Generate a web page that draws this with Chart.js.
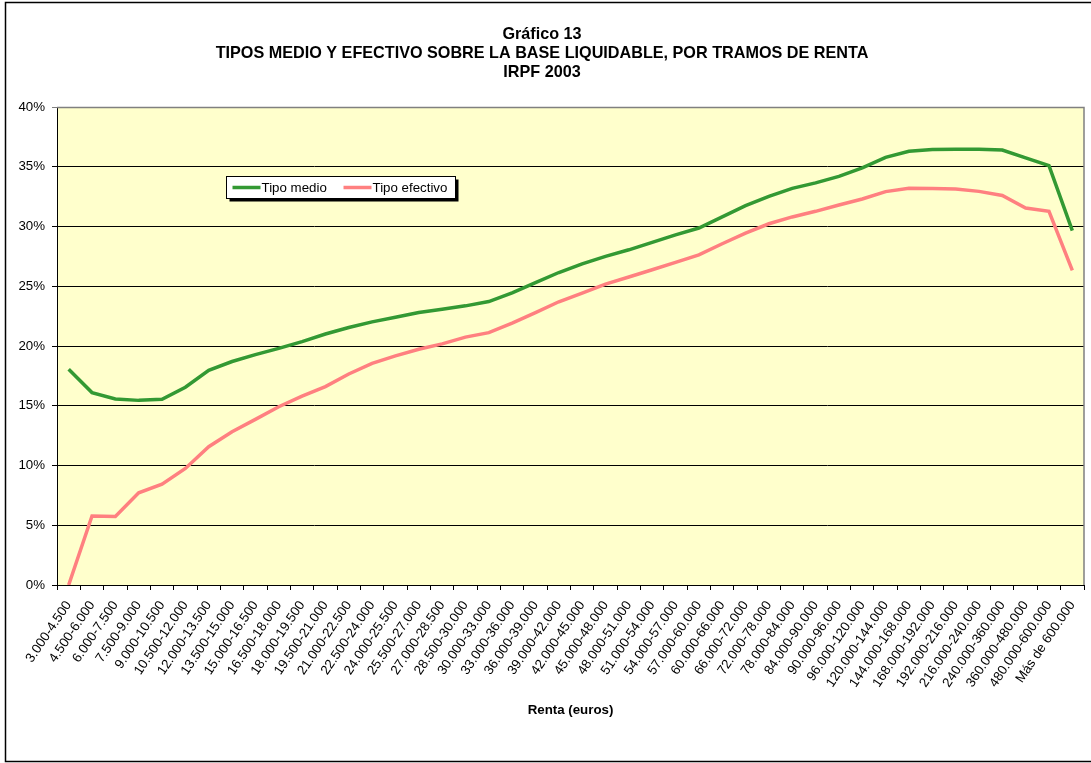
<!DOCTYPE html>
<html>
<head>
<meta charset="utf-8">
<script src="https://cdn.jsdelivr.net/npm/chart.js@4/dist/chart.umd.min.js"></script>
<style>
  html, body { margin: 0; padding: 0; background: #fff; }
  #chart { display: block; }
</style>
</head>
<body>
<canvas id="chart" width="1091" height="763"></canvas>
<script>
const tramos = [
  "3.000-4.500", "4.500-6.000", "6.000-7.500", "7.500-9.000", "9.000-10.500",
  "10.500-12.000", "12.000-13.500", "13.500-15.000", "15.000-16.500", "16.500-18.000",
  "18.000-19.500", "19.500-21.000", "21.000-22.500", "22.500-24.000", "24.000-25.500",
  "25.500-27.000", "27.000-28.500", "28.500-30.000", "30.000-33.000", "33.000-36.000",
  "36.000-39.000", "39.000-42.000", "42.000-45.000", "45.000-48.000", "48.000-51.000",
  "51.000-54.000", "54.000-57.000", "57.000-60.000", "60.000-66.000", "66.000-72.000",
  "72.000-78.000", "78.000-84.000", "84.000-90.000", "90.000-96.000", "96.000-120.000",
  "120.000-144.000", "144.000-168.000", "168.000-192.000", "192.000-216.000", "216.000-240.000",
  "240.000-360.000", "360.000-480.000", "480.000-600.000", "Más de 600.000"
];

// % sobre la base liquidable
const tipoMedio = [
  18.05, 16.1, 15.57, 15.45, 15.54, 16.55, 17.97, 18.7, 19.28, 19.8,
  20.37, 21.0, 21.55, 22.02, 22.4, 22.8, 23.08, 23.36, 23.72, 24.45,
  25.31, 26.15, 26.88, 27.5, 28.05, 28.67, 29.3, 29.87, 30.8, 31.74,
  32.52, 33.19, 33.65, 34.2, 34.9, 35.79, 36.3, 36.44, 36.47, 36.47,
  36.4, 35.74, 35.1, 29.65
];
const tipoEfectivo = [
  0.0, 5.78, 5.73, 7.71, 8.44, 9.75, 11.57, 12.83, 13.86, 14.92,
  15.8, 16.6, 17.66, 18.55, 19.17, 19.73, 20.18, 20.74, 21.12, 21.91,
  22.8, 23.7, 24.43, 25.18, 25.77, 26.38, 27.0, 27.63, 28.56, 29.45,
  30.23, 30.8, 31.27, 31.8, 32.3, 32.92, 33.2, 33.17, 33.14, 32.94,
  32.6, 31.55, 31.27, 26.32
];

const yTicks = [0, 5, 10, 15, 20, 25, 30, 35, 40];

Chart.defaults.font.family = "'Liberation Sans', Arial, sans-serif";
Chart.defaults.font.size = 13.3;
Chart.defaults.color = "#000";

// fondo blanco, marco exterior y area amarilla
const fondo = {
  id: "fondo",
  beforeDraw(chart) {
    const ctx = chart.ctx;
    const a = chart.chartArea;
    ctx.save();
    ctx.fillStyle = "#fff";
    ctx.fillRect(0, 0, chart.width, chart.height);
    ctx.strokeStyle = "#000";
    ctx.lineWidth = 1.5;
    ctx.strokeRect(5.5, 2.5, chart.width + 10, 759);
    ctx.fillStyle = "#FFFFCC";
    ctx.fillRect(a.left, a.top, a.right - a.left, a.bottom - a.top);
    ctx.restore();
  },
  beforeDatasetsDraw(chart) {
    const ctx = chart.ctx;
    const a = chart.chartArea;
    ctx.save();
    ctx.strokeStyle = "#808080";
    ctx.lineWidth = 1.5;
    ctx.beginPath();
    ctx.moveTo(a.left, a.top + 0.5);
    ctx.lineTo(a.right, a.top + 0.5);
    ctx.lineTo(a.right, a.bottom);
    ctx.stroke();
    ctx.restore();
  }
};

// leyenda en caja con sombra, dentro del grafico
const leyenda = {
  id: "leyenda",
  afterDraw(chart) {
    const ctx = chart.ctx;
    const x = 226.5, y = 176.5, w = 229, h = 22;
    ctx.save();
    ctx.fillStyle = "#000";
    ctx.fillRect(x + 3, y + 3, w, h);
    ctx.fillStyle = "#fff";
    ctx.fillRect(x, y, w, h);
    ctx.strokeStyle = "#000";
    ctx.lineWidth = 1;
    ctx.strokeRect(x, y, w, h);
    const items = [[232.5, 261.5], [343.5, 372.5]];
    ctx.font = "13.3px 'Liberation Sans', Arial, sans-serif";
    ctx.textBaseline = "middle";
    chart.data.datasets.forEach((ds, i) => {
      const [lx, tx] = items[i];
      ctx.strokeStyle = ds.borderColor;
      ctx.lineWidth = 3.5;
      ctx.beginPath();
      ctx.moveTo(lx, y + h / 2);
      ctx.lineTo(lx + 28, y + h / 2);
      ctx.stroke();
      ctx.fillStyle = "#000";
      ctx.fillText(ds.label, tx, y + h / 2 + 0.5);
    });
    ctx.restore();
  }
};

const ctx = document.getElementById("chart").getContext("2d");
new Chart(ctx, {
  type: "line",
  data: {
    labels: tramos,
    datasets: [
      {
        label: "Tipo medio",
        data: tipoMedio,
        borderColor: "#339933",
        borderWidth: 3.5,
        pointRadius: 0,
        tension: 0,
      },
      {
        label: "Tipo efectivo",
        data: tipoEfectivo,
        borderColor: "#FF8080",
        borderWidth: 3.5,
        pointRadius: 0,
        tension: 0,
      },
    ],
  },
  options: {
    responsive: false,
    animation: false,
    layout: { padding: { top: 0, left: 0, right: 7, bottom: 41 } },
    plugins: {
      legend: { display: false },
      tooltip: { enabled: false },
      title: {
        display: true,
        text: [
          "Gráfico 13",
          "TIPOS MEDIO Y EFECTIVO SOBRE LA BASE LIQUIDABLE, POR TRAMOS DE RENTA",
          "IRPF 2003",
        ],
        font: { size: 16.2, weight: "bold", lineHeight: "19px" },
        padding: { top: 25.5, bottom: 24.5 },
        color: "#000",
      },
    },
    scales: {
      x: {
        offset: true,
        afterFit(scale) {
          scale.height = 137;
          scale.paddingLeft = 0;
          scale.paddingRight = 0;
        },
        grid: {
          offset: true,
          drawOnChartArea: false,
          drawTicks: true,
          tickLength: 5,
          color: "#000",
        },
        border: { display: true, color: "#000", width: 1 },
        ticks: {
          autoSkip: false,
          maxRotation: 56,
          minRotation: 56,
          padding: 8,
          font: { size: 13.3 },
        },
        title: {
          display: true,
          text: "Renta (euros)",
          font: { size: 13.3, weight: "bold" },
          padding: { top: 4, bottom: 4 },
        },
      },
      y: {
        min: 0,
        max: 40,
        afterFit(scale) {
          scale.width = 57;
          scale.paddingTop = 0;
          scale.paddingBottom = 0;
        },
        afterBuildTicks(scale) { scale.ticks = yTicks.map((v) => ({ value: v })); },
        grid: {
          color: (c) => (c.tick && c.tick.value === 40 ? "#808080" : "#000"),
          lineWidth: 1,
          tickLength: 5,
        },
        border: { display: true, color: "#000", width: 1 },
        ticks: {
          padding: 7,
          callback: (v) => v + "%",
          font: { size: 13.3 },
        },
      },
    },
  },
  plugins: [fondo, leyenda],
});
</script>
</body>
</html>
